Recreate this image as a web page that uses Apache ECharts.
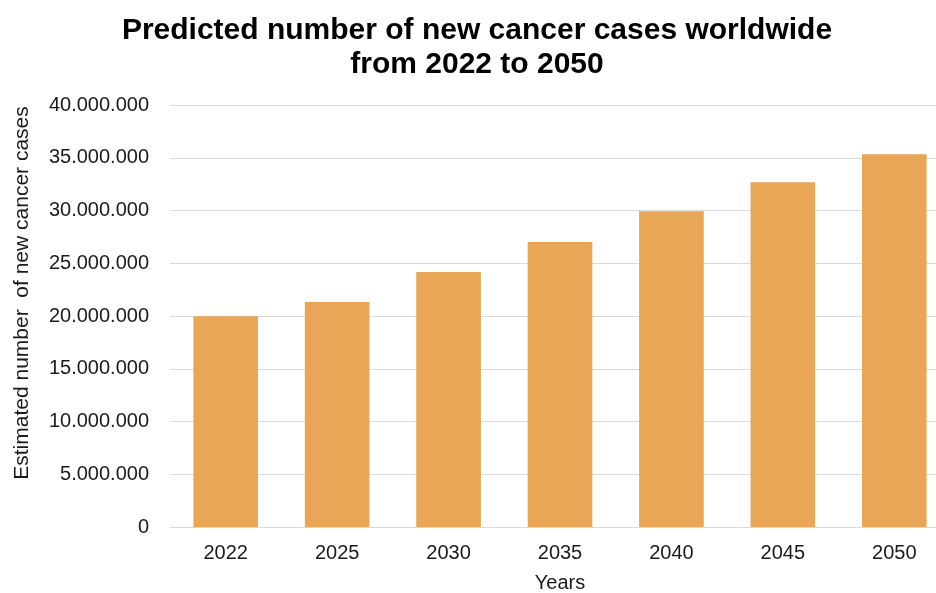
<!DOCTYPE html>
<html>
<head>
<meta charset="utf-8">
<script src="https://cdn.jsdelivr.net/npm/echarts@6/dist/echarts.min.js"></script>
<style>
  html, body { margin: 0; padding: 0; background: #fff; }
  #chart { width: 936px; height: 593px; }
</style>
</head>
<body>
<div id="chart"></div>
<script>
// Forecast years and estimated new cancer cases
const years = ['2022', '2025', '2030', '2035', '2040', '2045', '2050'];
const newCases = [19970000, 21320000, 24160000, 27020000, 29940000, 32670000, 35340000];
const yTicks = [0, 5000000, 10000000, 15000000, 20000000, 25000000, 30000000, 35000000, 40000000];

const titleText = 'Predicted number of new cancer cases worldwide\nfrom 2022 to 2050';
const yAxisTitle = 'Estimated number  of new cancer cases';
const xAxisTitle = 'Years';

// Dot as thousands separator
function fmt(v) {
  return String(v).replace(/\B(?=(\d{3})+(?!\d))/g, '.');
}

const FONT = '"Liberation Sans", Arial, sans-serif';

const chart = echarts.init(document.getElementById('chart'), null, { renderer: 'canvas' });
chart.setOption({
  animation: false,
  backgroundColor: '#ffffff',
  title: {
    text: titleText,
    left: 472,
    top: 9,
    textAlign: 'center',
    textStyle: {
      fontFamily: FONT,
      fontWeight: 'bold',
      fontSize: 30,
      lineHeight: 34,
      color: '#000000'
    }
  },
  grid: {
    left: 170,
    right: -14,
    top: 105,
    bottom: 66,
    containLabel: false,
    outerBoundsMode: 'none'
  },
  xAxis: {
    type: 'category',
    data: years,
    name: xAxisTitle,
    nameLocation: 'middle',
    nameGap: 46,
    nameTextStyle: { fontFamily: FONT, fontSize: 20, color: '#1a1a1a' },
    axisLine: { show: true, lineStyle: { color: '#d9d9d9', width: 1 } },
    axisTick: { show: false },
    axisLabel: { fontFamily: FONT, fontSize: 20, color: '#1a1a1a', margin: 16 }
  },
  yAxis: {
    type: 'value',
    min: yTicks[0],
    max: yTicks[yTicks.length - 1],
    interval: yTicks[1] - yTicks[0],
    name: yAxisTitle,
    nameLocation: 'middle',
    nameGap: 137,
    nameTextStyle: {
      fontFamily: FONT,
      fontSize: 21,
      color: '#1a1a1a',
      padding: [0, 0, 0, 46]
    },
    axisLine: { show: false },
    axisTick: { show: false },
    axisLabel: {
      fontFamily: FONT,
      fontSize: 20,
      color: '#1a1a1a',
      margin: 21,
      formatter: fmt
    },
    splitLine: { show: true, lineStyle: { color: '#d9d9d9', width: 1 } }
  },
  series: [{
    type: 'bar',
    data: newCases,
    barCategoryGap: '42%',
    itemStyle: { color: '#E8A656' }
  }]
});
</script>
</body>
</html>
